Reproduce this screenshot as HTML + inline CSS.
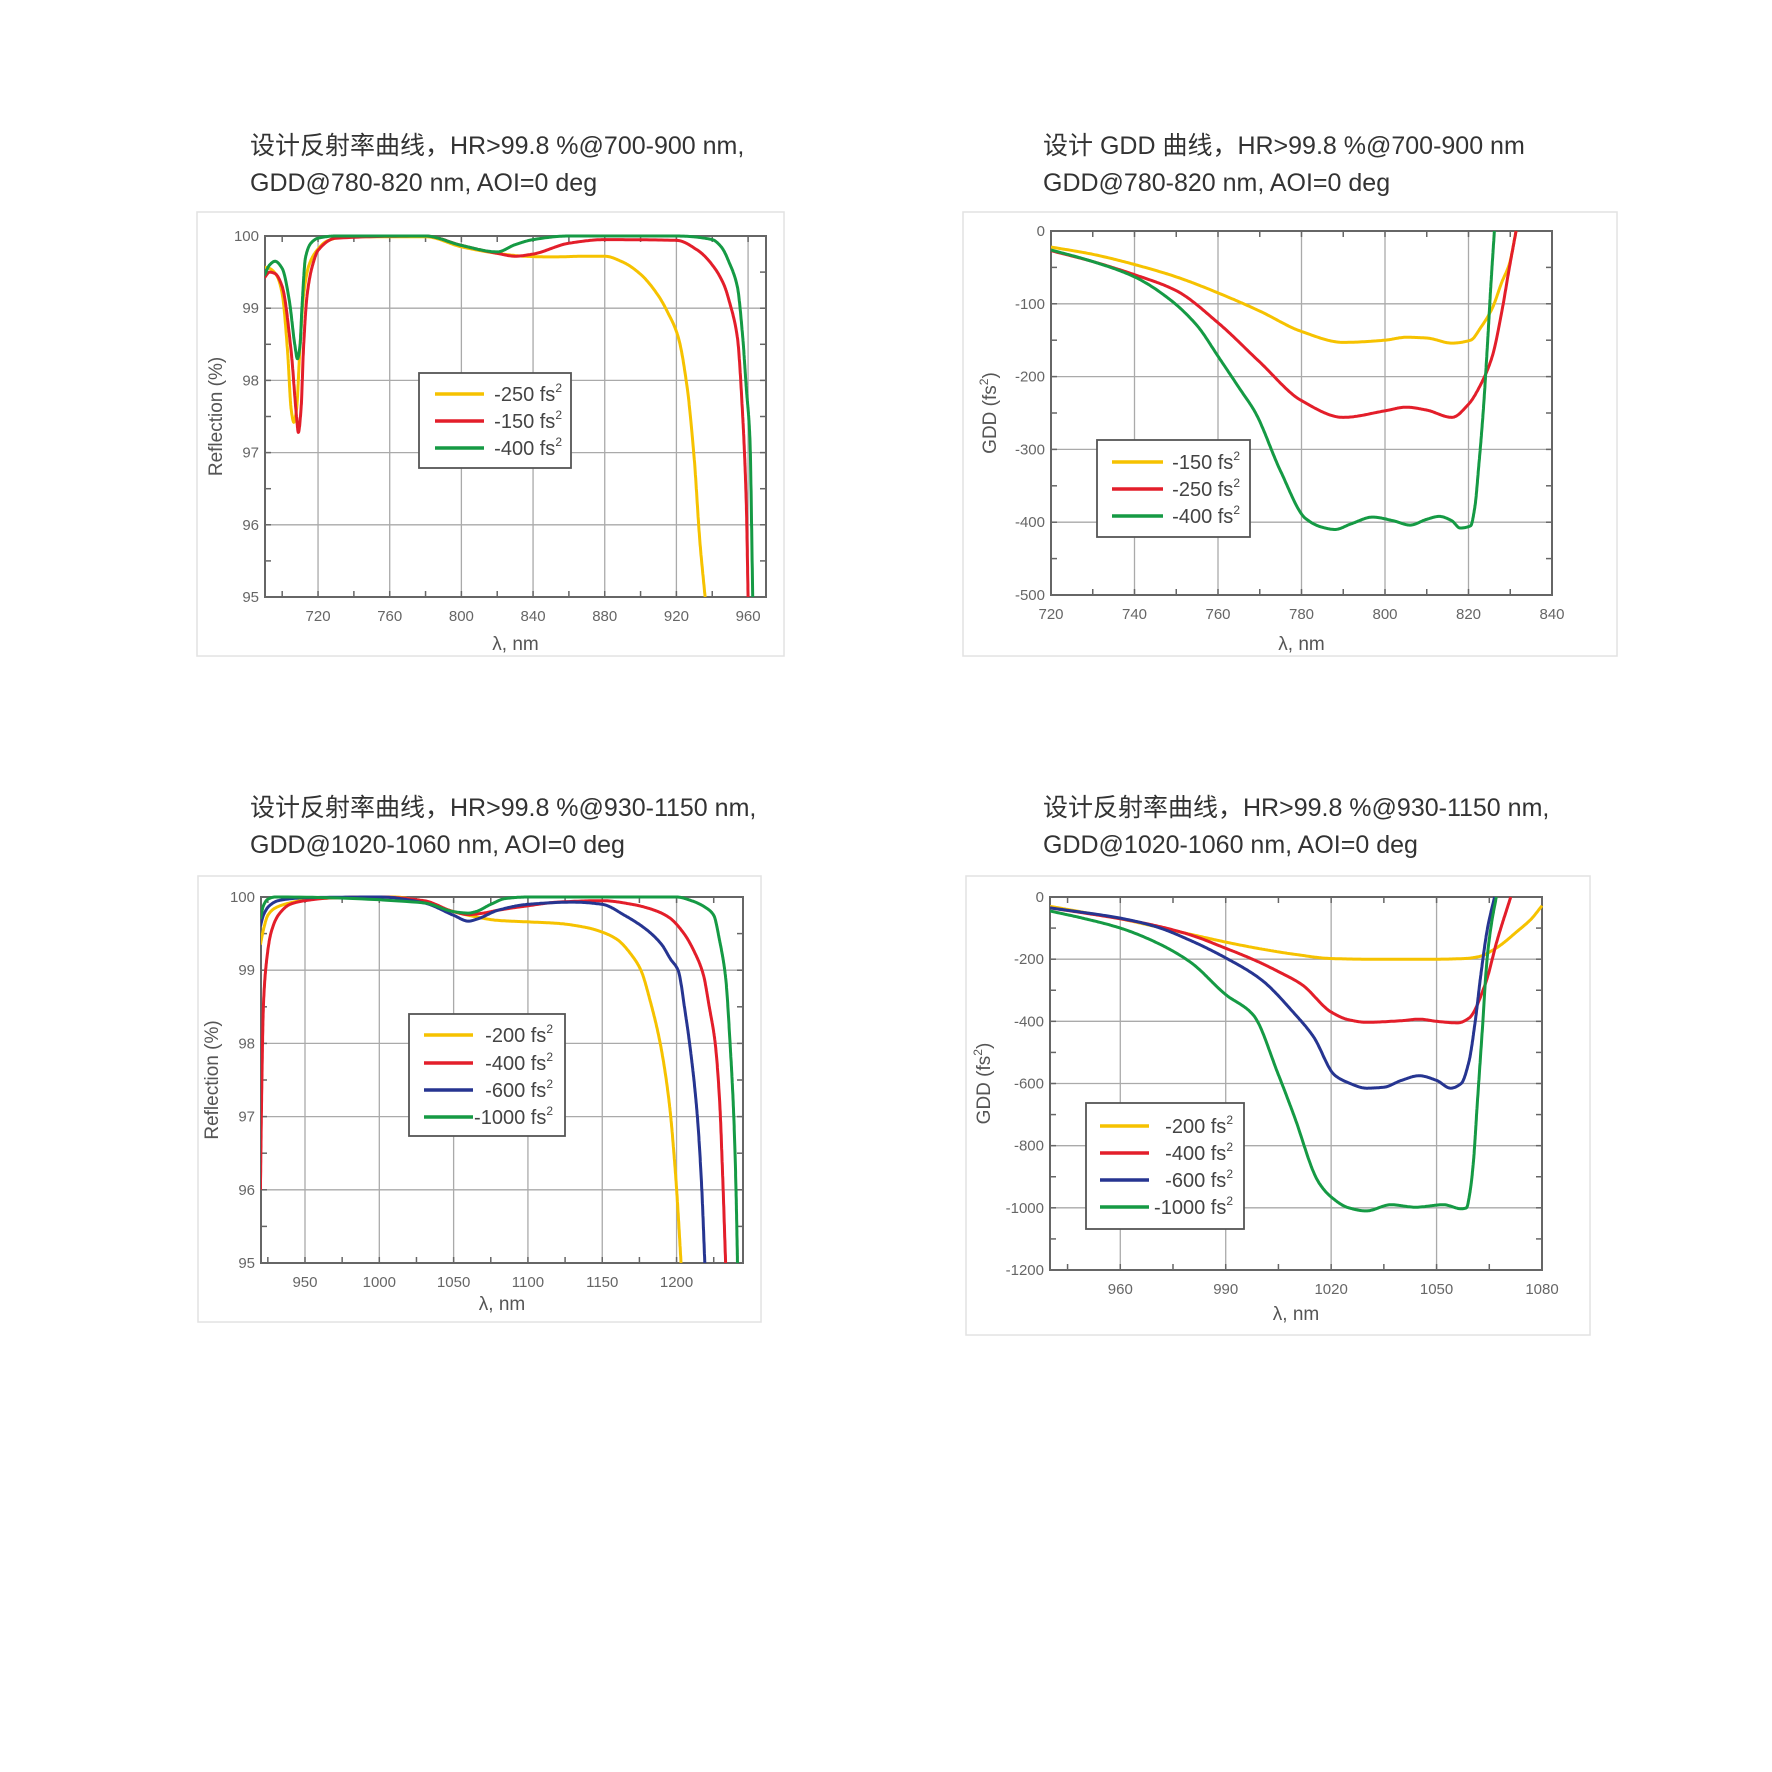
<!DOCTYPE html>
<html><head><meta charset="utf-8">
<style>
html,body{margin:0;padding:0;background:#fff;}
body{width:1772px;height:1772px;position:relative;overflow:hidden;font-family:"Liberation Sans","Noto Sans CJK SC",sans-serif;}
.title{position:absolute;font-size:25px;color:#333;line-height:37px;white-space:nowrap;}
svg{position:absolute;left:0;top:0;}
</style></head>
<body>
<div class="title" style="left:250px;top:128px;">设计反射率曲线，HR&gt;99.8 %@700-900 nm,<br>GDD@780-820 nm, AOI=0 deg</div>
<div class="title" style="left:1043px;top:128px;">设计 GDD 曲线，HR&gt;99.8 %@700-900 nm<br>GDD@780-820 nm, AOI=0 deg</div>
<div class="title" style="left:250px;top:790px;">设计反射率曲线，HR&gt;99.8 %@930-1150 nm,<br>GDD@1020-1060 nm, AOI=0 deg</div>
<div class="title" style="left:1043px;top:790px;">设计反射率曲线，HR&gt;99.8 %@930-1150 nm,<br>GDD@1020-1060 nm, AOI=0 deg</div>
<svg id="svg" width="1772" height="1772" xmlns="http://www.w3.org/2000/svg"></svg>
<script>
// ---------- Chart 1: Reflection 700-900 ----------
const c1XTicks=[720,760,800,840,880,920,960];
const c1YTicks=[95,96,97,98,99,100];
const c1Labels=["-250 fs","-150 fs","-400 fs"];
const c1W_yellow=[690,693,697,700,703,705,706.5,708,710,712,715,720,725,735,780,800,820,835,850,870,880,890,900,910,915,921,926,930,933,936];
const c1V_yellow=[99.57,99.55,99.45,99.2,98.4,97.6,97.42,97.6,98.5,99.2,99.6,99.82,99.93,99.99,99.99,99.85,99.76,99.72,99.71,99.72,99.72,99.64,99.47,99.17,98.95,98.6,97.9,96.9,95.8,95];
const c1W_red=[690,693,696,700,705,708,709,710.5,712,714,717,720,730,780,800,820,830,840,860,880,920,932,940,946.6,950,954,957,959,960];
const c1V_red=[99.42,99.5,99.48,99.3,98.4,97.5,97.28,97.6,98.5,99.2,99.6,99.8,99.97,100,99.87,99.76,99.72,99.75,99.9,99.95,99.94,99.8,99.6,99.32,99.05,98.6,97.5,96.3,95];
const c1W_green=[690,693,696,700,704,707,708.5,710,711,713,716,720,730,780,800,820,830,840,860,920,940,945,950,954,957,959,961,962.6];
const c1V_green=[99.45,99.6,99.65,99.55,99.1,98.5,98.3,98.5,99.0,99.7,99.9,99.97,100,100,99.87,99.78,99.88,99.95,100,100,99.95,99.85,99.6,99.3,98.6,97.9,97.2,95];

// ---------- Chart 2: GDD 720-840 ----------
const c2XTicks=[720,740,760,780,800,820,840];
const c2YTicks=[0,-100,-200,-300,-400,-500];
const c2Labels=["-150 fs","-250 fs","-400 fs"];
const c2W_yellow=[720,730,740,750,760,770,780,790,800,805,810,816,820.5,823,825.7,828,829.8,831.4];
const c2V_yellow=[-22,-32,-46,-63,-85,-110,-138,-153,-150,-146,-147,-154,-150,-132,-106,-70,-45,0];
const c2W_red=[720,730,740,750,760,770,780,790,800,805,810,816,820,823,825.7,828,829.8,831.4];
const c2V_red=[-27,-42,-60,-82,-126,-180,-233,-256,-247,-242,-246,-256,-238,-210,-172,-110,-50,0];
const c2W_green=[720,730,740,748,755,760,765,769,775,781,785,788,792,797,802,806,810,813,816,818,820.5,821.5,822.5,823.5,824.5,825.3,826.2];
const c2V_green=[-26,-42,-63,-92,-130,-172,-215,-250,-330,-395,-407,-410,-402,-393,-398,-404,-396,-392,-398,-408,-405,-380,-320,-250,-160,-80,0];

// ---------- Chart 3: Reflection 930-1150 ----------
const c3XTicks=[950,1000,1050,1100,1150,1200];
const c3YTicks=[95,96,97,98,99,100];
const c3Labels=["-200 fs","-400 fs","-600 fs","-1000 fs"];
const c3W_yellow=[920,922,925,930,940,950,960,1000,1010,1030,1050,1060,1080,1100,1120,1140,1150,1160,1170,1176,1182,1189,1195,1199,1201,1203];
const c3V_yellow=[99.35,99.55,99.75,99.85,99.92,99.96,99.98,100,100,99.93,99.8,99.75,99.68,99.66,99.64,99.58,99.52,99.42,99.2,99.0,98.6,98.0,97.2,96.3,95.7,95];
const c3W_red=[920,921,922,924,927,932,940,950,970,1000,1030,1050,1060,1070,1080,1100,1120,1150,1170,1185,1195,1205,1212,1218,1222,1226,1229,1231,1233];
const c3V_red=[96.0,97.5,98.5,99.1,99.5,99.75,99.9,99.95,99.99,100,99.95,99.8,99.76,99.78,99.82,99.88,99.93,99.95,99.9,99.82,99.72,99.5,99.25,98.94,98.5,98.0,97.2,96.2,95];
const c3W_blue=[920,922,926,932,950,1000,1030,1050,1060,1066,1080,1100,1130,1150,1165,1180,1190,1196,1201,1206,1210,1214,1217,1219];
const c3V_blue=[99.6,99.75,99.88,99.95,99.99,100,99.92,99.75,99.67,99.7,99.82,99.9,99.93,99.9,99.75,99.55,99.35,99.15,99.0,98.4,97.8,97.0,96.0,95];
const c3W_green=[920,922,925,930,1030,1050,1060,1065,1075,1085,1100,1200,1210,1220,1225,1229,1233,1236,1238.5,1240,1241];
const c3V_green=[99.7,99.88,99.97,100,99.92,99.8,99.78,99.8,99.9,99.98,100,100,99.95,99.85,99.75,99.4,98.9,98.0,97.0,96.0,95];

// ---------- Chart 4: GDD 940-1080 ----------
const c4XTicks=[960,990,1020,1050,1080];
const c4YTicks=[0,-200,-400,-600,-800,-1000,-1200];
const c4Labels=["-200 fs","-400 fs","-600 fs","-1000 fs"];
const c4W_yellow=[940,950,960,970,980,990,1000,1010,1020,1030,1040,1050,1058,1062,1067,1073,1077,1080];
const c4V_yellow=[-30,-50,-70,-95,-120,-145,-167,-185,-198,-200,-200,-200,-198,-192,-164,-110,-70,-28];
const c4W_red=[940,950,960,970,980,990,997.8,1005,1011.7,1020,1025,1030,1040,1045,1050,1056,1059.2,1063.8,1067.3,1071.1];
const c4V_red=[-35,-52,-70,-92,-122,-165,-201,-240,-282,-370,-395,-403,-398,-393,-400,-405,-390,-282,-137,0];
const c4W_blue=[940,960,970,980,990,1000,1009.4,1015,1021,1025,1030,1035,1040,1045,1050,1054,1057,1059.2,1061,1062.6,1064.5,1066.5];
const c4V_blue=[-35,-68,-95,-140,-196,-265,-373,-450,-573,-598,-615,-612,-590,-575,-590,-615,-600,-530,-400,-250,-100,0];
const c4W_green=[940,950,960,970,980,990,997.8,1005,1009.4,1016.4,1020,1025,1030,1037,1044,1052,1057,1058.5,1059.5,1060.5,1061.5,1063,1064.4,1065.7,1067];
const c4V_green=[-45,-70,-100,-145,-210,-314,-379,-572,-702,-917,-965,-1000,-1010,-990,-998,-990,-1003,-1000,-950,-850,-680,-430,-196,-80,0];

const COL={yellow:"#f6c200",red:"#e31e2a",green:"#159a44",blue:"#263591"};
const NS="http://www.w3.org/2000/svg";
const svg=document.getElementById("svg");
function mk(tag,attrs,parent){const e=document.createElementNS(NS,tag);for(const k in attrs)e.setAttribute(k,attrs[k]);(parent||svg).appendChild(e);return e;}
// monotone cubic (Fritsch-Carlson) in data space, densely sampled
function monoSample(xs,ys){
  const n=xs.length,d=[],m=new Array(n);
  for(let i=0;i<n-1;i++)d.push((ys[i+1]-ys[i])/(xs[i+1]-xs[i]));
  m[0]=d[0];m[n-1]=d[n-2];
  for(let i=1;i<n-1;i++){
    if(d[i-1]*d[i]<=0)m[i]=0;
    else{const h0=xs[i]-xs[i-1],h1=xs[i+1]-xs[i];const w1=2*h1+h0,w2=h1+2*h0;m[i]=(w1+w2)/(w1/d[i-1]+w2/d[i]);}
  }
  const out=[];
  for(let i=0;i<n-1;i++){
    const h=xs[i+1]-xs[i],steps=24;
    for(let k=0;k<steps;k++){
      const t=k/steps,t2=t*t,t3=t2*t;
      const y=(2*t3-3*t2+1)*ys[i]+(t3-2*t2+t)*h*m[i]+(-2*t3+3*t2)*ys[i+1]+(t3-t2)*h*m[i+1];
      out.push([xs[i]+t*h,y]);
    }
  }
  out.push([xs[n-1],ys[n-1]]);
  return out;
}
function drawChart(o){
  const g=mk("g",{});
  
  
  const fr=mk("rect",{x:o.frame[0],y:o.frame[1],width:o.frame[2]-o.frame[0],height:o.frame[3]-o.frame[1],fill:"#fff",stroke:"#e2e2e2","stroke-width":1.5},g);
  
  
  const [L,T,R,B]=o.plot;
  const sx=v=>L+(v-o.xd[0])/(o.xd[1]-o.xd[0])*(R-L);
  const sy=v=>B-(v-o.yd[0])/(o.yd[1]-o.yd[0])*(B-T);
  o.xTicks.forEach(v=>{
    const gl=mk("line",{x1:sx(v),x2:sx(v),y1:T,y2:B,stroke:"#aaa","stroke-width":1.3},g);
    
    
    const t=mk("text",{x:sx(v),y:B+24,"text-anchor":"middle","font-size":15,fill:"#666"},g);
    t.textContent=v;
    
    
  });
  o.yTicks.forEach(v=>{
    const gl=mk("line",{x1:L,x2:R,y1:sy(v),y2:sy(v),stroke:"#aaa","stroke-width":1.3},g);
    
    
    const t=mk("text",{x:L-6,y:sy(v)+5,"text-anchor":"end","font-size":15,fill:"#666"},g);
    t.textContent=v;
    
    
  });
  for(let v=o.xMinor[0];v<=o.xd[1];v+=o.xMinor[1]){
    mk("line",{x1:sx(v),x2:sx(v),y1:B,y2:B-6,stroke:"#666","stroke-width":1.5},g);
    mk("line",{x1:sx(v),x2:sx(v),y1:T,y2:T+6,stroke:"#666","stroke-width":1.5},g);
  }
  for(let v=o.yd[0];v<=o.yd[1]+1e-9;v+=o.yMinor){
    mk("line",{x1:L,x2:L+6,y1:sy(v),y2:sy(v),stroke:"#666","stroke-width":1.5},g);
    mk("line",{x1:R,x2:R-6,y1:sy(v),y2:sy(v),stroke:"#666","stroke-width":1.5},g);
  }
  const ax=mk("rect",{x:L,y:T,width:R-L,height:B-T,fill:"none",stroke:"#666","stroke-width":2},g);
  
  
  const cid="clip"+o.name;
  const cp=mk("clipPath",{id:cid},g);
  mk("rect",{x:L,y:T-3,width:R-L+3,height:B-T+3},cp);
  o.series.forEach(s=>{
    const pts=monoSample(s.w,s.v).map(p=>[sx(p[0]),sy(p[1])]);
    const d="M"+pts.map(p=>p[0].toFixed(1)+","+p[1].toFixed(1)).join("L");
    const p=mk("path",{d:d,fill:"none",stroke:COL[s.c],"stroke-width":3,"clip-path":"url(#"+cid+")","stroke-linejoin":"round"},g);
    
    
  });
  const xt=mk("text",{x:(L+R)/2,y:o.xTitleY,"text-anchor":"middle","font-size":19,fill:"#555"},g);
  xt.textContent="λ, nm";
  
  
  const yt=mk("text",{x:0,y:0,"text-anchor":"middle","font-size":19,fill:"#555",transform:"translate("+o.yTitleX+","+(T+B)/2+") rotate(-90)"},g);
  yt.innerHTML=o.yTitle;
  
  
  const lg=mk("g",{},g);
  
  
  const lb=o.legend;
  mk("rect",{x:lb.box[0],y:lb.box[1],width:lb.box[2]-lb.box[0],height:lb.box[3]-lb.box[1],fill:"#fff",stroke:"#555","stroke-width":1.8},lg);
  o.series.forEach((s,i)=>{
    const y=lb.ys[i];
    const ent=mk("g",{},lg);
    
    
    mk("line",{x1:lb.line[0],x2:lb.line[1],y1:y,y2:y,stroke:COL[s.c],"stroke-width":3.5},ent);
    const t=mk("text",{x:lb.tx,y:y+7,"text-anchor":"end","font-size":20,fill:"#444"},ent);
    t.innerHTML=o.labels[i]+'<tspan dy="-9" font-size="12">2</tspan>';
  });
}
drawChart({name:"chart1-reflection",frame:[197,212,784,656],plot:[265,236,766,597],xd:[690.4,970],yd:[95,100],
  xTicks:c1XTicks,yTicks:c1YTicks,xMinor:[700,20],yMinor:0.5,xTitleY:650,yTitleX:222,yTitle:"Reflection (%)",labels:c1Labels,
  series:[{c:"yellow",w:c1W_yellow,v:c1V_yellow},{c:"red",w:c1W_red,v:c1V_red},{c:"green",w:c1W_green,v:c1V_green}],
  legend:{box:[419,373,571,468],ys:[394,421,448],line:[435,484],tx:562}});
drawChart({name:"chart2-gdd",frame:[963,212,1617,656],plot:[1051,231,1552,595],xd:[720,840],yd:[-500,0],
  xTicks:c2XTicks,yTicks:c2YTicks,xMinor:[730,10],yMinor:50,xTitleY:650,yTitleX:996,yTitle:'GDD (fs<tspan dy="-8" font-size="12">2</tspan><tspan dy="8">)</tspan>',labels:c2Labels,
  series:[{c:"yellow",w:c2W_yellow,v:c2V_yellow},{c:"red",w:c2W_red,v:c2V_red},{c:"green",w:c2W_green,v:c2V_green}],
  legend:{box:[1097,440,1250,537],ys:[462,489,516],line:[1112,1163],tx:1240}});
drawChart({name:"chart3-reflection",frame:[198,876,761,1322],plot:[261,897,743,1263],xd:[920.4,1244.7],yd:[95,100],
  xTicks:c3XTicks,yTicks:c3YTicks,xMinor:[925,25],yMinor:0.5,xTitleY:1310,yTitleX:218,yTitle:"Reflection (%)",labels:c3Labels,
  series:[{c:"yellow",w:c3W_yellow,v:c3V_yellow},{c:"red",w:c3W_red,v:c3V_red},{c:"blue",w:c3W_blue,v:c3V_blue},{c:"green",w:c3W_green,v:c3V_green}],
  legend:{box:[409,1014,565,1136],ys:[1035,1063,1090,1117],line:[424,473],tx:553}});
drawChart({name:"chart4-gdd",frame:[966,876,1590,1335],plot:[1050,897,1542,1270],xd:[940,1080],yd:[-1200,0],
  xTicks:c4XTicks,yTicks:c4YTicks,xMinor:[945,15],yMinor:100,xTitleY:1320,yTitleX:990,yTitle:'GDD (fs<tspan dy="-8" font-size="12">2</tspan><tspan dy="8">)</tspan>',labels:c4Labels,
  series:[{c:"yellow",w:c4W_yellow,v:c4V_yellow},{c:"red",w:c4W_red,v:c4V_red},{c:"blue",w:c4W_blue,v:c4V_blue},{c:"green",w:c4W_green,v:c4V_green}],
  legend:{box:[1086,1103,1244,1229],ys:[1126,1153,1180,1207],line:[1100,1149],tx:1233}});
</script>
</body></html>
